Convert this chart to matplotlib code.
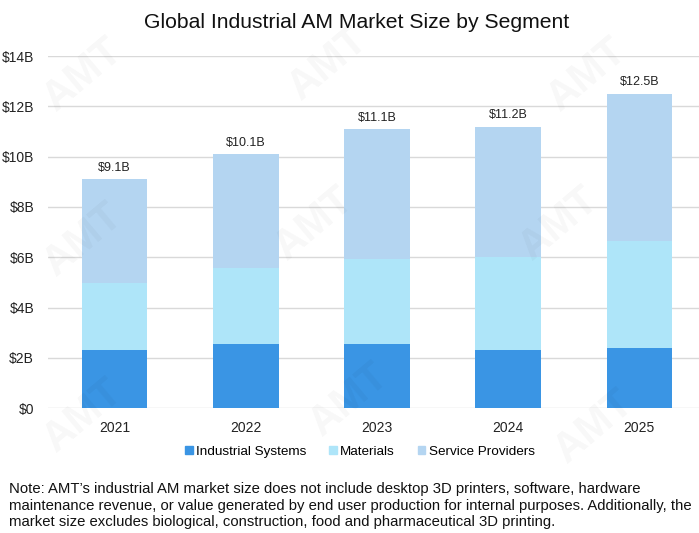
import numpy as np
import matplotlib.pyplot as plt
from matplotlib.patches import Patch

plt.rcParams['font.family'] = ['Liberation Sans', 'DejaVu Sans']

# data (billions USD)
years = ["2021", "2022", "2023", "2024", "2025"]
industrial = [2.32, 2.55, 2.55, 2.29, 2.37]
materials = [2.65, 3.02, 3.39, 3.70, 4.27]
totals = [9.1, 10.1, 11.1, 11.2, 12.5]
total_labels = ["$9.1B", "$10.1B", "$11.1B", "$11.2B", "$12.5B"]
service = [t - i - m for t, i, m in zip(totals, industrial, materials)]

c_ind = "#3a95e4"
c_mat = "#aee5f9"
c_srv = "#b4d5f1"

fig = plt.figure(figsize=(6.99, 5.33), dpi=100)
ax = fig.add_axes([0.0687, 0.2345, 0.9313, 0.66])

x = np.arange(len(years))
w = 0.5
ax.bar(x, industrial, w, color=c_ind, zorder=3)
ax.bar(x, materials, w, bottom=industrial, color=c_mat, zorder=3)
bot2 = np.array(industrial) + np.array(materials)
ax.bar(x, service, w, bottom=bot2, color=c_srv, zorder=3)

for xi, t, lab in zip(x, totals, total_labels):
    ax.text(xi, t + 0.22, lab, ha="center", va="bottom", fontsize=9, color="#222222")

ax.set_ylim(0, 14)
ax.set_xlim(-0.507, 4.455)
ax.set_yticks(range(0, 15, 2))
ax.set_yticklabels(["$0" if v == 0 else f"${v}B" for v in range(0, 15, 2)])
ax.set_xticks(x)
ax.set_xticklabels(years)
ax.grid(axis="y", color="#d9d9d9", linewidth=1, zorder=0)
for s in ax.spines.values():
    s.set_visible(False)
ax.tick_params(length=0, labelsize=10, colors="#222222")
ax.tick_params(axis="y", pad=10)
ax.tick_params(axis="x", pad=9)

# faint watermarks
for wx, wy in [(0.12, 0.86), (0.47, 0.88), (0.84, 0.86), (0.12, 0.55), (0.45, 0.58),
               (0.8, 0.58), (0.12, 0.22), (0.5, 0.25), (0.85, 0.2)]:
    fig.text(wx, wy, "AMT", fontsize=30, fontweight="bold", color="#000000",
             alpha=0.03, rotation=40, ha="center", va="center")

fig.text(0.51, 0.958, "Global Industrial AM Market Size by Segment",
         ha="center", va="center", fontsize=15.2, color="#111111")

handles = [Patch(color=c_ind), Patch(color=c_mat), Patch(color=c_srv)]
fig.legend(handles, ["Industrial Systems", "Materials", "Service Providers"],
           loc="center", bbox_to_anchor=(0.515, 0.152), ncol=3, frameon=False,
           fontsize=9.7, handlelength=0.55, handleheight=0.55, handletextpad=0.25,
           columnspacing=1.7)

note = ("Note: AMT\u2019s industrial AM market size does not include desktop 3D printers, software, hardware\n"
        "maintenance revenue, or value generated by end user production for internal purposes. Additionally, the\n"
        "market size excludes biological, construction, food and pharmaceutical 3D printing.")
fig.text(0.013, 0.051, note, ha="left", va="center", fontsize=10.75,
         color="#111111", linespacing=1.22)

fig.savefig("out.png", dpi=100)
